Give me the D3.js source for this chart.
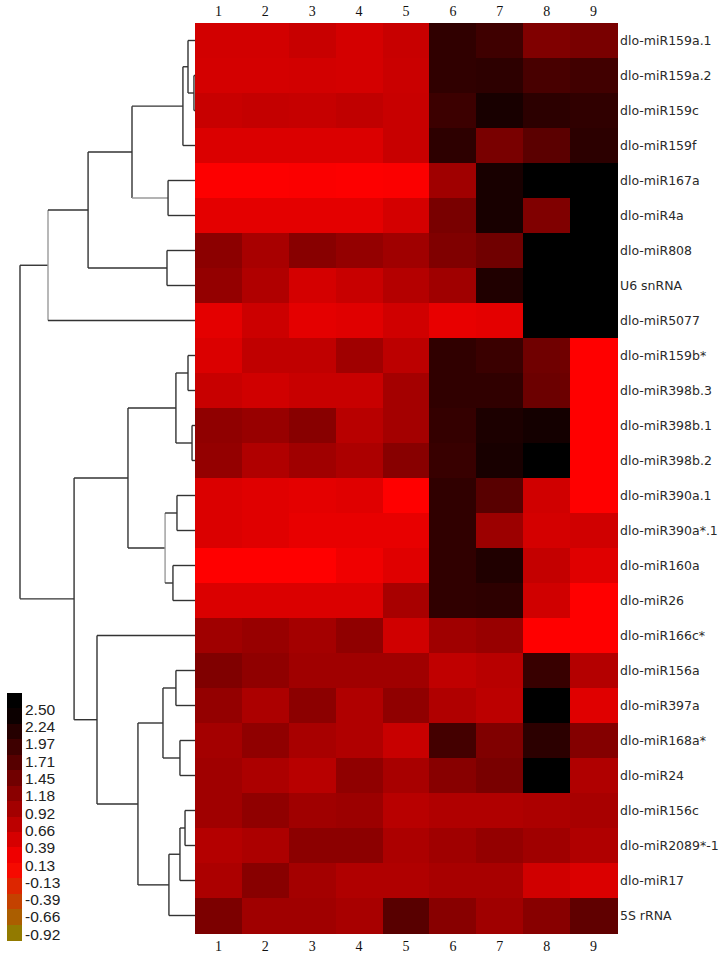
<!DOCTYPE html>
<html><head><meta charset="utf-8">
<script src="https://cdn.jsdelivr.net/npm/d3@7"></script>
<style>body{margin:0;background:#fff}svg{display:block}</style>
</head><body>
<svg id="chart" width="723" height="957"></svg>
<script>
const columns = ["1","2","3","4","5","6","7","8","9"];
const rowLabels = ["dlo-miR159a.1","dlo-miR159a.2","dlo-miR159c","dlo-miR159f","dlo-miR167a","dlo-miR4a","dlo-miR808","U6 snRNA","dlo-miR5077","dlo-miR159b*","dlo-miR398b.3","dlo-miR398b.1","dlo-miR398b.2","dlo-miR390a.1","dlo-miR390a*.1","dlo-miR160a","dlo-miR26","dlo-miR166c*","dlo-miR156a","dlo-miR397a","dlo-miR168a*","dlo-miR24","dlo-miR156c","dlo-miR2089*-1","dlo-miR17","5S rRNA"];
const values = [
  [0.55,0.55,0.64,0.53,0.64,2.05,1.91,1.31,1.38],
  [0.53,0.53,0.55,0.53,0.62,2.05,2.08,1.83,1.90],
  [0.64,0.68,0.66,0.72,0.64,1.94,2.28,2.09,2.05],
  [0.46,0.46,0.46,0.46,0.64,2.08,1.38,1.65,2.09],
  [0.15,0.15,0.17,0.15,0.17,1.01,2.28,2.50,2.50],
  [0.38,0.38,0.38,0.38,0.53,1.38,2.28,1.31,2.50],
  [1.20,0.94,1.24,1.12,1.01,1.31,1.46,2.50,2.50],
  [1.12,0.86,0.53,0.64,0.83,1.01,2.20,2.50,2.50],
  [0.38,0.60,0.38,0.42,0.57,0.34,0.38,2.50,2.50],
  [0.46,0.72,0.72,1.01,0.75,2.05,1.96,1.46,0.13],
  [0.64,0.57,0.64,0.64,0.98,2.05,2.05,1.50,0.13],
  [1.16,1.09,1.24,0.79,0.98,2.02,2.24,2.31,0.13],
  [1.12,0.86,1.01,0.90,1.24,1.98,2.28,2.50,0.13],
  [0.46,0.42,0.38,0.42,0.13,2.05,1.68,0.57,0.13],
  [0.46,0.42,0.34,0.34,0.34,2.05,1.05,0.53,0.57],
  [0.13,0.13,0.13,0.27,0.42,2.05,2.20,0.68,0.42],
  [0.46,0.46,0.46,0.46,0.94,2.05,2.08,0.57,0.13],
  [1.01,1.09,0.98,1.16,0.57,1.01,1.09,0.13,0.13],
  [1.31,1.16,1.01,1.01,1.01,0.72,0.79,1.98,0.83],
  [1.12,0.90,1.20,0.86,1.16,0.86,0.75,2.50,0.42],
  [0.98,1.16,0.94,0.86,0.64,1.87,1.31,2.09,1.27],
  [1.01,0.90,0.79,1.16,0.94,1.24,1.38,2.50,0.86],
  [1.01,1.16,1.01,1.05,0.79,0.86,0.86,0.90,0.94],
  [0.83,0.90,1.20,1.20,0.90,1.01,1.12,1.01,0.86],
  [0.90,1.24,0.98,0.86,0.86,0.94,0.94,0.57,0.46],
  [1.35,1.01,1.01,0.94,1.68,1.24,1.01,1.24,1.61]
];
const legendTicks = ["2.50","2.24","1.97","1.71","1.45","1.18","0.92","0.66","0.39","0.13","-0.13","-0.39","-0.66","-0.92"];
const colorStops = [-0.92, 0.13, 2.50];
const colorRange = ["#8f7d00", "#ff0000", "#000000"];

// dendrogram: internal nodes {h: merge height, c: children}; leaves are labels
const tree = {h:1.0, c:[
  {h:0.84, grayV:true, c:[
    {h:0.611, c:[
      {h:0.36, c:[
        {h:0.069, c:[
          {h:0.04, c:["dlo-miR159a.1", {h:0.006, c:["dlo-miR159a.2","dlo-miR159c"]}]},
          "dlo-miR159f"]},
        {h:0.154, grayH:true, c:["dlo-miR167a","dlo-miR4a"]}
      ]},
      {h:0.16, c:["dlo-miR808","U6 snRNA"]}
    ]},
    "dlo-miR5077"
  ]},
  {h:0.691, c:[
    {h:0.383, c:[
      {h:0.109, c:[{h:0.04, c:["dlo-miR159b*","dlo-miR398b.3"]}, {h:0.017, c:["dlo-miR398b.1","dlo-miR398b.2"]}]},
      {h:0.171, grayV:true, c:[{h:0.103, c:["dlo-miR390a.1","dlo-miR390a*.1"]}, {h:0.126, c:["dlo-miR160a","dlo-miR26"]}]}
    ]},
    {h:0.56, c:[
      "dlo-miR166c*",
      {h:0.326, c:[
        {h:0.183, c:[{h:0.109, c:["dlo-miR156a","dlo-miR397a"]}, {h:0.086, c:["dlo-miR168a*","dlo-miR24"]}]},
        {h:0.149, c:[{h:0.086, c:[{h:0.057, c:["dlo-miR156c","dlo-miR2089*-1"]}, "dlo-miR17"]}, "5S rRNA"]}
      ]}
    ]}
  ]}
]};

(function () {
const svg = d3.select("#chart");
const x = d3.scaleBand().domain(columns).range([195, 617]);
const y = d3.scaleBand().domain(rowLabels).range([23, 933]);
const color = d3.scaleLinear().domain(colorStops).range(colorRange).clamp(true);

// heatmap
const cells = [];
values.forEach((row, i) => row.forEach((v, j) => cells.push({r: rowLabels[i], c: columns[j], v})));
svg.append("g").selectAll("rect").data(cells).join("rect")
  .attr("x", d => x(d.c)).attr("y", d => y(d.r))
  .attr("width", x.bandwidth() + 0.5).attr("height", y.bandwidth() + 0.5)
  .attr("fill", d => color(d.v)).attr("shape-rendering", "crispEdges");

// column labels
["top","bottom"].forEach(pos => {
  svg.append("g").selectAll("text").data(columns).join("text")
    .attr("x", d => x(d) + x.bandwidth() / 2)
    .attr("y", pos === "top" ? 16 : 951)
    .attr("text-anchor", "middle")
    .attr("font-family", "Liberation Serif, Times New Roman, serif")
    .attr("font-size", 14).attr("fill", "#111").text(d => d);
});

// row labels
svg.append("g").selectAll("text").data(rowLabels).join("text")
  .attr("x", 620).attr("y", d => y(d) + y.bandwidth() / 2).attr("dy", "0.36em")
  .attr("font-family", "DejaVu Sans, Verdana, sans-serif")
  .attr("font-size", 12.5).attr("fill", "#2a2a2a").text(d => d);

// dendrogram
const root = d3.hierarchy(tree, d => (typeof d === "string") ? null : d.c);
const hx = d3.scaleLinear().domain([0, 1]).range([195, 20]);
root.eachAfter(n => {
  if (!n.children) { n.py = y(n.data) + y.bandwidth() / 2; n.px = hx(0); }
  else { n.py = d3.mean([n.children[0].py, n.children[n.children.length - 1].py]); n.px = hx(n.data.h); }
});
const dg = svg.append("g").attr("fill", "none").attr("stroke-width", 1.4);
root.each(n => {
  if (!n.children) return;
  const first = n.children[0], last = n.children[n.children.length - 1];
  dg.append("line").attr("x1", n.px).attr("x2", n.px).attr("y1", first.py).attr("y2", last.py)
    .attr("stroke", n.data.grayV ? "#9a9a9a" : "#333");
  n.children.forEach(ch => {
    dg.append("line").attr("x1", n.px).attr("x2", ch.px).attr("y1", ch.py).attr("y2", ch.py)
      .attr("stroke", (typeof ch.data !== "string" && ch.data.grayH) ? "#9a9a9a" : "#333");
  });
});

// legend
const ly = d3.scaleLinear().domain([2.50, -0.92]).range([709, 934]);
const barTop = 693, barBottom = 940, nSteps = 16;
const stepH = (barBottom - barTop) / nSteps;
const steps = d3.range(nSteps);
svg.append("g").selectAll("rect").data(steps).join("rect")
  .attr("x", 7).attr("width", 15)
  .attr("y", i => barTop + i * stepH).attr("height", stepH + 0.5)
  .attr("fill", i => color(ly.invert(barTop + (i + 0.5) * stepH)))
  .attr("shape-rendering", "crispEdges");
svg.append("g").selectAll("text").data(legendTicks).join("text")
  .attr("x", 25).attr("y", d => ly(+d)).attr("dy", "0.36em")
  .attr("font-family", "Liberation Sans, Arial, sans-serif")
  .attr("font-size", 15.5).attr("fill", "#222").text(d => d);
})();
</script>
</body></html>
